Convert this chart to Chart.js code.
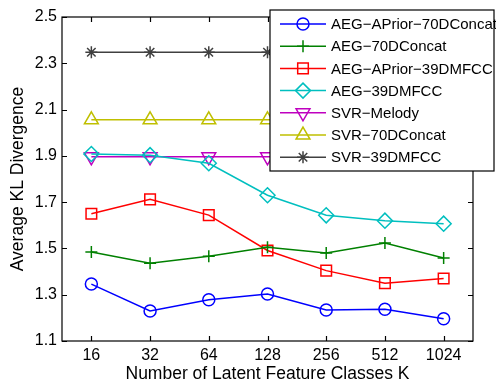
<!DOCTYPE html>
<html lang="en-US">
<head>
  <meta charset="utf-8">
  <title>KL divergence vs latent classes</title>
  <script src="https://cdn.jsdelivr.net/npm/chart.js@4.4.0/dist/chart.umd.min.js"></script>
  <style>
    html, body { margin: 0; padding: 0; background: #fff; }
    .wrapper { width: 496px; height: 383px; }
  </style>
</head>
<body>
  <div class="wrapper">
    <canvas id="chart-0" width="496" height="383"></canvas>
  </div>

  <script>
    let classes = ['16', '32', '64', '128', '256', '512', '1024'];
    let yTicks = [1.1, 1.3, 1.5, 1.7, 1.9, 2.1, 2.3, 2.5];

    let aegAPrior70 = [1.346, 1.230, 1.278, 1.303, 1.234, 1.237, 1.196];
    let aeg70 = [1.485, 1.436, 1.466, 1.505, 1.480, 1.523, 1.459];
    let aegAPrior39 = [1.650, 1.712, 1.644, 1.491, 1.404, 1.350, 1.370];
    let aeg39 = [1.908, 1.903, 1.868, 1.730, 1.643, 1.620, 1.607];
    let svrMelody = [1.896, 1.896, 1.896, 1.896, 1.896, 1.896, 1.896];
    let svr70 = [2.056, 2.056, 2.056, 2.056, 2.056, 2.056, 2.056];
    let svr39 = [2.348, 2.348, 2.348, 2.348, 2.348, 2.348, 2.348];

    let font = '"Liberation Sans", Arial, Helvetica, sans-serif';

    function series(label, data, color, style, radius, rotation) {
      return {
        label: label,
        data: data,
        borderColor: color,
        backgroundColor: color,
        borderWidth: 1.5,
        pointStyle: style,
        pointRadius: radius,
        pointRotation: rotation || 0,
        pointBorderColor: color,
        pointBackgroundColor: 'rgba(0,0,0,0)',
        pointBorderWidth: 1.5,
        tension: 0
      };
    }

    let datasets = [
      series('AEG\u2212APrior\u221270DConcat', aegAPrior70, '#0000ff', 'circle', 6),
      series('AEG\u221270DConcat', aeg70, '#008000', 'cross', 6),
      series('AEG\u2212APrior\u221239DMFCC', aegAPrior39, '#ff0000', 'rect', 7.5),
      series('AEG\u221239DMFCC', aeg39, '#00bfbf', 'rectRot', 7.5),
      series('SVR\u2212Melody', svrMelody, '#bf00bf', 'triangle', 8, 180),
      series('SVR\u221270DConcat', svr70, '#bfbf00', 'triangle', 8),
      series('SVR\u221239DMFCC', svr39, '#404040', 'star', 6)
    ];

    // box round the plot with inward tick marks, like the original
    let framePlugin = {
      id: 'frame',
      afterDatasetsDraw(chart) {
        let ctx = chart.ctx;
        let a = chart.chartArea;
        let x = chart.scales.x, y = chart.scales.y;
        ctx.save();
        ctx.strokeStyle = '#000';
        ctx.lineWidth = 1.2;
        ctx.strokeRect(a.left, a.top, a.right - a.left, a.bottom - a.top);
        ctx.beginPath();
        for (let i = 0; i < classes.length; i++) {
          let px = Math.round(x.getPixelForValue(i)) + 0.5;
          ctx.moveTo(px, a.bottom); ctx.lineTo(px, a.bottom - 5);
          ctx.moveTo(px, a.top); ctx.lineTo(px, a.top + 5);
        }
        yTicks.forEach(function(v) {
          let py = Math.round(y.getPixelForValue(v)) + 0.5;
          ctx.moveTo(a.left, py); ctx.lineTo(a.left + 5, py);
          ctx.moveTo(a.right, py); ctx.lineTo(a.right - 5, py);
        });
        ctx.stroke();
        ctx.restore();
      },
      afterDraw(chart) {
        // legend box, opaque, overlapping the plot's top right corner
        let ctx = chart.ctx;
        let bx = 270, by = 10, bw = 224, bh = 161;
        ctx.save();
        ctx.fillStyle = '#fff';
        ctx.fillRect(bx, by, bw, bh);
        ctx.strokeStyle = '#000';
        ctx.lineWidth = 1.2;
        ctx.strokeRect(bx, by, bw, bh);
        ctx.font = '15px ' + font;
        ctx.textBaseline = 'middle';
        chart.data.datasets.forEach(function(ds, i) {
          let cy = 24 + i * 22.2;
          ctx.strokeStyle = ds.borderColor;
          ctx.lineWidth = 1.5;
          ctx.beginPath();
          ctx.moveTo(280, cy); ctx.lineTo(326, cy);
          ctx.stroke();
          ctx.fillStyle = 'rgba(0,0,0,0)';
          Chart.helpers.drawPoint(ctx, {
            pointStyle: ds.pointStyle,
            radius: ds.pointRadius,
            rotation: ds.pointRotation,
            borderWidth: 1.5
          }, 303, cy);
          ctx.fillStyle = '#000';
          ctx.fillText(ds.label, 331, cy + 1);
        });
        ctx.restore();
      }
    };

    let chart = new Chart('chart-0', {
      type: 'line',
      data: { labels: classes, datasets: datasets },
      plugins: [framePlugin],
      options: {
        responsive: false,
        animation: false,
        devicePixelRatio: 1,
        layout: { padding: { top: 17, right: 23, left: 8, bottom: 0 } },
        plugins: {
          legend: { display: false },
          tooltip: { enabled: false }
        },
        scales: {
          x: {
            type: 'category',
            offset: true,
            grid: { display: false, drawTicks: false },
            border: { display: false },
            ticks: { color: '#000', font: { family: font, size: 16 }, padding: 5, maxRotation: 0 },
            title: {
              display: true,
              text: 'Number of Latent Feature Classes K',
              color: '#000',
              font: { family: font, size: 17.5 },
              padding: { top: 0, bottom: -2 }
            },
            afterFit: function(s) { s.height = 42; }
          },
          y: {
            min: 1.1,
            max: 2.5,
            grid: { display: false, drawTicks: false },
            border: { display: false },
            afterBuildTicks: function(s) { s.ticks = yTicks.map(v => ({ value: v })); },
            ticks: {
              color: '#000',
              font: { family: font, size: 16 },
              padding: 5,
              callback: v => v.toFixed(1)
            },
            title: {
              display: true,
              text: 'Average KL Divergence',
              color: '#000',
              font: { family: font, size: 17.5 },
              padding: { top: 0, bottom: 0 }
            },
            afterFit: function(s) { s.width = 54; }
          }
        }
      }
    });
  </script>
</body>
</html>
